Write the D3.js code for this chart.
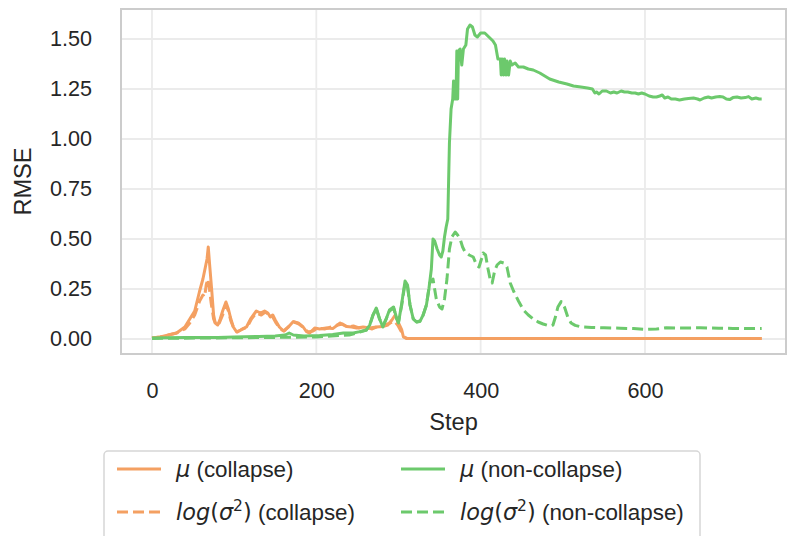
<!DOCTYPE html>
<html>
<head>
<meta charset="utf-8">
<script src="https://cdn.jsdelivr.net/npm/d3@7"></script>
<style>
    body { margin: 0; background: #fff; }
    text { font-family: "Liberation Sans", Arial, sans-serif; fill: #262626; }
    .math { font-family: "DejaVu Sans", sans-serif; }
</style>
</head>
<body>
<script>
/* global d3 */

// [step, rmse]
var muCollapse = [[0,0.005],[10,0.01],[20,0.02],[30,0.03],[40,0.06],[46,0.1],[52,0.14],[58,0.24],[62,0.3],[65,0.36],
    [67,0.4],[68.5,0.46],[70,0.38],[72.6,0.25],[75,0.12],[77,0.08],[80,0.07],[83,0.1],[86,0.14],[90,0.185],
    [93,0.15],[96,0.1],[99,0.06],[103,0.035],[108,0.045],[115,0.06],[120,0.1],[127,0.14],[132,0.13],[137,0.14],
    [141,0.13],[144,0.11],[147,0.12],[150,0.095],[155,0.06],[160,0.04],[166,0.06],[172,0.087],[178,0.08],[184,0.06],
    [188,0.037],[192,0.03],[198,0.055],[204,0.05],[212,0.055],[220,0.052],[229,0.08],[233,0.07],[237,0.062],[243,0.06],
    [249,0.055],[257,0.06],[265,0.055],[273,0.06],[281,0.062],[287,0.07],[292,0.095],[296,0.12],[300,0.08],[304,0.045],
    [306,0.01],[310,0.002],[742,0.002]];

var logCollapse = [[0,0.005],[10,0.01],[20,0.02],[30,0.03],[40,0.05],[46,0.08],[52,0.12],[58,0.19],[62,0.22],[64,0.21],
    [66,0.27],[68,0.3],[70,0.25],[72,0.18],[75,0.1],[78,0.07],[82,0.08],[86,0.12],[90,0.17],[93,0.14],
    [96,0.09],[100,0.05],[104,0.035],[110,0.05],[116,0.06],[121,0.1],[127,0.13],[133,0.12],[138,0.135],[143,0.12],
    [147,0.11],[151,0.08],[156,0.05],[161,0.04],[167,0.065],[173,0.085],[179,0.075],[185,0.055],[190,0.035],[196,0.04],
    [202,0.055],[210,0.05],[218,0.06],[226,0.07],[232,0.075],[238,0.06],[245,0.065],[252,0.055],[260,0.06],[268,0.05],
    [276,0.065],[284,0.07],[290,0.08],[295,0.09],[299,0.07],[303,0.04],[307,0.01],[311,0.002],[742,0.002]];

var muNonCollapse = [[0,0.005],[40,0.007],[80,0.008],[100,0.01],[130,0.013],[150,0.015],[162,0.02],[167,0.03],[172,0.02],[185,0.015],
    [204,0.018],[220,0.022],[233,0.03],[245,0.03],[253,0.037],[261,0.045],[265,0.07],[269,0.12],[273,0.155],[277,0.1],
    [281,0.06],[285,0.1],[289,0.145],[294,0.16],[298,0.1],[300,0.08],[304,0.18],[308,0.29],[311,0.27],[314,0.17],
    [318,0.1],[322,0.085],[326,0.087],[330,0.12],[334,0.17],[337,0.25],[340,0.35],[342,0.5],[344,0.49],[347,0.45],
    [350,0.42],[352,0.41],[354,0.44],[356,0.51],[358,0.56],[360,0.6],[362,0.98],[364,1.15],[366,1.2],[367,1.29],
    [368,1.2],[369,1.29],[370,1.2],[371,1.44],[372,1.2],[373,1.44],[375,1.45],[377,1.37],[379,1.45],[382,1.47],
    [384,1.55],[387,1.57],[390,1.56],[393,1.52],[396,1.51],[400,1.53],[405,1.53],[410,1.51],[415,1.49],[418,1.47],
    [421,1.4],[424,1.4],[425,1.32],[426,1.4],[428,1.32],[429,1.4],[431,1.32],[432,1.39],[434,1.32],[436,1.39],
    [438,1.37],[442,1.38],[446,1.36],[452,1.36],[458,1.35],[464,1.345],[472,1.33],[484,1.3],[495,1.285],[505,1.275],
    [513,1.265],[522,1.26],[530,1.255],[536,1.25],[539,1.23],[541,1.235],[544,1.225],[548,1.24],[553,1.24],[558,1.23],
    [562,1.235],[566,1.23],[571,1.24],[575,1.235],[579,1.235],[584,1.23],[588,1.23],[592,1.225],[596,1.23],[600,1.225],
    [605,1.215],[610,1.21],[614,1.21],[618,1.215],[621,1.22],[624,1.205],[628,1.21],[632,1.2],[637,1.2],[642,1.195],
    [648,1.2],[653,1.203],[659,1.205],[664,1.2],[667,1.195],[672,1.205],[677,1.21],[681,1.205],[686,1.21],[691,1.212],
    [695,1.21],[699,1.2],[703,1.197],[707,1.207],[712,1.21],[717,1.205],[722,1.207],[726,1.212],[730,1.2],[735,1.205],
    [739,1.2],[742,1.2]];

var logNonCollapse = [[0,0.003],[100,0.006],[200,0.01],[240,0.02],[253,0.035],[261,0.045],[265,0.07],[269,0.12],[273,0.15],[277,0.1],
    [281,0.065],[285,0.1],[289,0.14],[294,0.155],[298,0.1],[300,0.085],[304,0.17],[308,0.28],[311,0.26],[314,0.17],
    [318,0.1],[322,0.085],[326,0.09],[330,0.12],[334,0.17],[338,0.28],[342,0.3],[346,0.2],[350,0.16],[353,0.15],
    [356,0.2],[359,0.3],[362,0.45],[365,0.51],[369,0.535],[372,0.52],[375,0.5],[378,0.46],[381,0.435],[386,0.42],
    [391,0.41],[395,0.37],[398,0.36],[401,0.4],[403,0.43],[406,0.42],[409,0.35],[412,0.29],[414,0.28],[417,0.34],
    [420,0.37],[424,0.385],[428,0.38],[432,0.36],[436,0.28],[440,0.24],[446,0.19],[452,0.145],[458,0.12],[464,0.1],
    [470,0.085],[476,0.075],[484,0.065],[488,0.07],[491,0.11],[494,0.16],[498,0.187],[502,0.16],[506,0.11],[510,0.08],
    [515,0.068],[521,0.062],[535,0.058],[550,0.056],[570,0.054],[586,0.052],[602,0.048],[614,0.05],[626,0.056],[645,0.055],
    [667,0.056],[690,0.054],[707,0.053],[725,0.052],[742,0.053]];

var xTicks = [0, 200, 400, 600];
var yTicks = [0, 0.25, 0.5, 0.75, 1.0, 1.25, 1.5];

var orange = "#f4a062",
        green = "#6cc96c";

var series = [
    {data: muCollapse, color: orange, dash: null},
    {data: logCollapse, color: orange, dash: "11,5"},
    {data: muNonCollapse, color: green, dash: null},
    {data: logNonCollapse, color: green, dash: "11,5"}
];

var width = 788,
        height = 536,
        margin = {top: 9, right: 2, bottom: 182, left: 121},
plotWidth = width - margin.left - margin.right,
        plotHeight = height - margin.top - margin.bottom;

var svg = d3.select("body")
        .append("svg")
        .attr("width", width)
        .attr("height", height);

var x = d3.scaleLinear().domain([-37.7, 771.6]).range([0, plotWidth]),
        y = d3.scaleLinear().domain([-0.075, 1.65]).range([plotHeight, 0]);

var g = svg.append("g")
        .attr("transform", "translate(" + margin.left + "," + margin.top + ")");

// grid
g.selectAll(".gx")
        .data(xTicks)
        .enter().append("line")
        .attr("x1", x).attr("x2", x)
        .attr("y1", 0).attr("y2", plotHeight)
        .attr("stroke", "#ebebeb")
        .attr("stroke-width", 1.8);
g.selectAll(".gy")
        .data(yTicks)
        .enter().append("line")
        .attr("x1", 0).attr("x2", plotWidth)
        .attr("y1", y).attr("y2", y)
        .attr("stroke", "#ebebeb")
        .attr("stroke-width", 1.8);

// lines
var line = d3.line()
        .x(function (d) {
            return x(d[0]);
        })
        .y(function (d) {
            return y(d[1]);
        });

g.selectAll(".series")
        .data(series)
        .enter().append("path")
        .attr("d", function (d) {
            return line(d.data);
        })
        .attr("fill", "none")
        .attr("stroke", function (d) {
            return d.color;
        })
        .attr("stroke-dasharray", function (d) {
            return d.dash;
        })
        .attr("stroke-width", 3)
        .attr("stroke-linejoin", "round");

// frame
g.append("rect")
        .attr("width", plotWidth)
        .attr("height", plotHeight)
        .attr("fill", "none")
        .attr("stroke", "#cccccc")
        .attr("stroke-width", 2);

// axes
var xAxis = g.append("g")
        .attr("transform", "translate(0," + plotHeight + ")")
        .call(d3.axisBottom(x).tickValues(xTicks).tickFormat(d3.format("d")).tickSize(0).tickPadding(29));
var yAxis = g.append("g")
        .call(d3.axisLeft(y).tickValues(yTicks).tickFormat(d3.format(".2f")).tickSize(0).tickPadding(29));

[xAxis, yAxis].forEach(function (a) {
    a.select(".domain").remove();
    a.selectAll("text")
            .attr("fill", "#262626")
            .style("font-family", "'Liberation Sans', Arial, sans-serif")
            .style("font-size", "21.6px");
});

svg.append("text")
        .attr("x", margin.left + plotWidth / 2)
        .attr("y", 430)
        .attr("text-anchor", "middle")
        .style("font-size", "23.6px")
        .text("Step");

svg.append("text")
        .attr("transform", "translate(31," + (margin.top + plotHeight / 2) + ")rotate(-90)")
        .attr("text-anchor", "middle")
        .style("font-size", "23.6px")
        .text("RMSE");

// legend
var legend = svg.append("g");
legend.append("rect")
        .attr("x", 104)
        .attr("y", 451)
        .attr("width", 596)
        .attr("height", 110)
        .attr("rx", 4)
        .attr("fill", "#fff")
        .attr("stroke", "#d6d6d6")
        .attr("stroke-width", 1.5);

var legendItems = [
    {s: series[0], col: 0, row: 0, mu: true, tail: " (collapse)"},
    {s: series[1], col: 0, row: 1, mu: false, tail: " (collapse)"},
    {s: series[2], col: 1, row: 0, mu: true, tail: " (non-collapse)"},
    {s: series[3], col: 1, row: 1, mu: false, tail: " (non-collapse)"}
];
var colX = [117, 401], rowY = [469, 512];

legendItems.forEach(function (it) {
    var lx = colX[it.col], ly = rowY[it.row];
    legend.append("line")
            .attr("x1", lx).attr("x2", lx + 44)
            .attr("y1", ly).attr("y2", ly)
            .attr("stroke", it.s.color)
            .attr("stroke-width", 3)
            .attr("stroke-dasharray", it.s.dash);

    var t = legend.append("text")
            .attr("x", lx + 59)
            .attr("y", ly)
            .attr("dy", "0.36em")
            .style("font-size", "22.4px");
    if (it.mu) {
        t.append("tspan").attr("class", "math").style("font-style", "italic").text("\u03bc");
    } else {
        t.append("tspan").attr("class", "math").style("font-style", "italic").text("log");
        t.append("tspan").attr("class", "math").text("(");
        t.append("tspan").attr("class", "math").style("font-style", "italic").text("\u03c3");
        t.append("tspan").attr("class", "math").attr("dy", -9).style("font-size", "15.5px").text("2");
        t.append("tspan").attr("class", "math").attr("dy", 9).text(")");
    }
    t.append("tspan").style("white-space", "pre").text(it.tail);
});
</script>
</body>
</html>
